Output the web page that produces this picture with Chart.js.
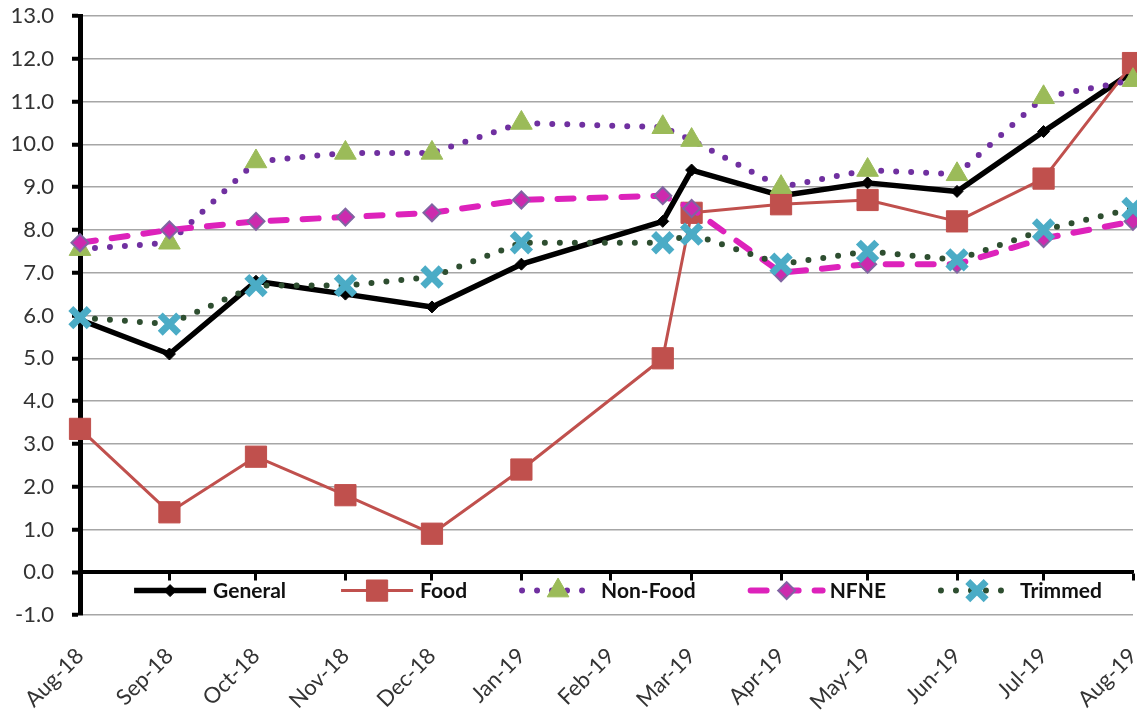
<!DOCTYPE html>
<html><head><meta charset="utf-8">
<script src="https://cdn.jsdelivr.net/npm/chart.js@4.4.1/dist/chart.umd.min.js"></script>
<style>html,body{margin:0;padding:0;background:#fff;overflow:hidden}canvas{display:block}</style>
</head><body>
<canvas id="c" width="1137" height="710"></canvas>
<script>
// Tick labels (month starts) and their positions in days since 1 Aug 2018
const monthLabels = ['Aug-18','Sep-18','Oct-18','Nov-18','Dec-18','Jan-19','Feb-19','Mar-19','Apr-19','May-19','Jun-19','Jul-19','Aug-19'];
const monthDays = [0,31,61,92,122,153,184,212,243,273,304,334,365];
// Observation dates (days since 1 Aug 2018)
const obsDays = [0,31,61,92,122,153,202,212,243,273,304,334,365];
// Series values
const general = [5.9,5.1,6.8,6.5,6.2,7.2,8.2,9.4,8.8,9.1,8.9,10.3,11.7];
const food    = [3.35,1.4,2.7,1.8,0.9,2.4,5.0,8.4,8.6,8.7,8.2,9.2,11.9];
const nonFood = [7.55,7.7,9.6,9.8,9.8,10.5,10.4,10.1,9.0,9.4,9.3,11.1,11.5];
const nfne    = [7.7,8.0,8.2,8.3,8.4,8.7,8.8,8.5,7.0,7.2,7.2,7.8,8.2];
const trimmed = [5.95,5.8,6.7,6.7,6.9,7.7,7.7,7.9,7.2,7.5,7.3,8.0,8.5];

const pts = arr => arr.map((v,i) => ({x: obsDays[i], y: v}));
const FONT = 'Lato, "Open Sans", sans-serif';

const legendPlugin = {
  id: 'insideLegend',
  afterDatasetsDraw(chart) {
    const ctx = chart.ctx, ca = chart.chartArea, ys = chart.scales.y;
    const yc = (ys.getPixelForValue(0) + ys.getPixelForValue(-1)) / 2 - 3;
    ctx.save();
    ctx.font = 'bold 21px ' + FONT;
    const sample = 72, gapText = 7, gapItem = 55;
    const items = chart.data.datasets.map(ds => ({ds, w: ctx.measureText(ds.label).width}));
    const total = items.reduce((s,it) => s + sample + gapText + it.w, 0) + gapItem * (items.length - 1);
    let x = (ca.left + ca.right) / 2 + 11.5 - total / 2;
    items.forEach(({ds, w}) => {
      ctx.save();
      ctx.strokeStyle = ds.borderColor; ctx.lineWidth = ds.borderWidth;
      ctx.lineCap = ds.borderCapStyle || 'butt';
      ctx.setLineDash(ds.borderDash || []);
      ctx.beginPath(); ctx.moveTo(x, yc); ctx.lineTo(x + sample, yc); ctx.stroke();
      ctx.setLineDash([]);
      ctx.lineCap = 'butt';
      ctx.fillStyle = ds.pointBackgroundColor; ctx.strokeStyle = ds.pointBorderColor; ctx.lineWidth = ds.pointBorderWidth;
      Chart.helpers.drawPoint(ctx, {pointStyle: ds.pointStyle, radius: ds.pointRadius, borderWidth: ds.pointBorderWidth, rotation: 0}, x + sample / 2, yc);
      ctx.restore();
      ctx.fillStyle = '#111'; ctx.textBaseline = 'middle'; ctx.textAlign = 'left';
      ctx.fillText(ds.label, x + sample + gapText, yc + 1);
      x += sample + gapText + w + gapItem;
    });
    ctx.restore();
  }
};

const setMonthTicks = axis => { axis.ticks = monthDays.map(v => ({value: v})); };
const noPad = s => { s.paddingLeft = 0; s.paddingRight = 0; s.paddingTop = 0; s.paddingBottom = 0; };

new Chart(document.getElementById('c'), {
  type: 'line',
  data: {
    datasets: [
      {label: 'General', data: pts(general), order: 5,
       borderColor: '#000', borderWidth: 5.5, borderJoinStyle: 'round',
       pointStyle: 'rectRot', pointRadius: 6, pointBackgroundColor: '#000', pointBorderColor: '#000', pointBorderWidth: 1},
      {label: 'Food', data: pts(food), order: 4,
       borderColor: '#C0504D', borderWidth: 3, borderJoinStyle: 'round',
       pointStyle: 'rect', pointRadius: 15, pointBackgroundColor: '#C0504D', pointBorderColor: '#C0504D', pointBorderWidth: 1},
      {label: 'Non-Food', data: pts(nonFood), order: 3,
       borderColor: '#7030A0', borderWidth: 6, borderDash: [0, 15], borderCapStyle: 'round',
       pointStyle: 'triangle', pointRadius: 12.5, pointBackgroundColor: '#9BBB59', pointBorderColor: '#9BBB59', pointBorderWidth: 1},
      {label: 'NFNE', data: pts(nfne), order: 2,
       borderColor: '#DD22BB', borderWidth: 6, borderDash: [16, 16], borderCapStyle: 'round',
       pointStyle: 'rectRot', pointRadius: 8.5, pointBackgroundColor: '#CC2AAE', pointBorderColor: '#8064A2', pointBorderWidth: 2},
      {label: 'Trimmed', data: pts(trimmed), order: 1,
       borderColor: '#2E4E30', borderWidth: 6, borderDash: [0, 15], borderCapStyle: 'round',
       pointStyle: 'crossRot', pointRadius: 13, pointBackgroundColor: '#4BACC6', pointBorderColor: '#4BACC6', pointBorderWidth: 7}
    ]
  },
  options: {
    responsive: false,
    animation: false,
    clip: false,
    layout: {autoPadding: false, padding: {top: 16, right: 4, left: 0, bottom: 0}},
    plugins: {legend: {display: false}, tooltip: {enabled: false}},
    elements: {line: {tension: 0}},
    scales: {
      x: {
        type: 'linear', position: 'bottom', min: 0, max: 365,
        afterBuildTicks: setMonthTicks,
        afterFit: s => { s.height = 95; noPad(s); },
        grid: {display: false, drawTicks: false},
        border: {display: false},
        ticks: {autoSkip: false, maxRotation: 45, minRotation: 45, padding: 28,
                color: '#333', font: {family: FONT, size: 22},
                callback: (v, i) => monthLabels[i]}
      },
      x2: {
        type: 'linear', position: {y: 0}, min: 0, max: 365,
        afterBuildTicks: setMonthTicks,
        afterFit: noPad,
        ticks: {display: false},
        grid: {drawOnChartArea: false, drawTicks: true, tickLength: 7, tickWidth: 3, tickColor: '#000'},
        border: {display: true, color: '#000', width: 3.5}
      },
      y: {
        min: -1, max: 13,
        afterFit: s => { s.width = 80; noPad(s); },
        ticks: {stepSize: 1, padding: 18, color: '#333', font: {family: FONT, size: 22},
                callback: v => v.toFixed(1)},
        grid: {color: c => c.tick && c.tick.value === 0 ? '#000' : '#A6A6A6',
               lineWidth: c => c.tick && c.tick.value === 0 ? 3 : 1.5,
               tickLength: 8, tickWidth: 4, tickColor: '#000'},
        border: {display: true, color: '#000', width: 5}
      }
    }
  },
  plugins: [legendPlugin]
});
</script>
</body></html>
